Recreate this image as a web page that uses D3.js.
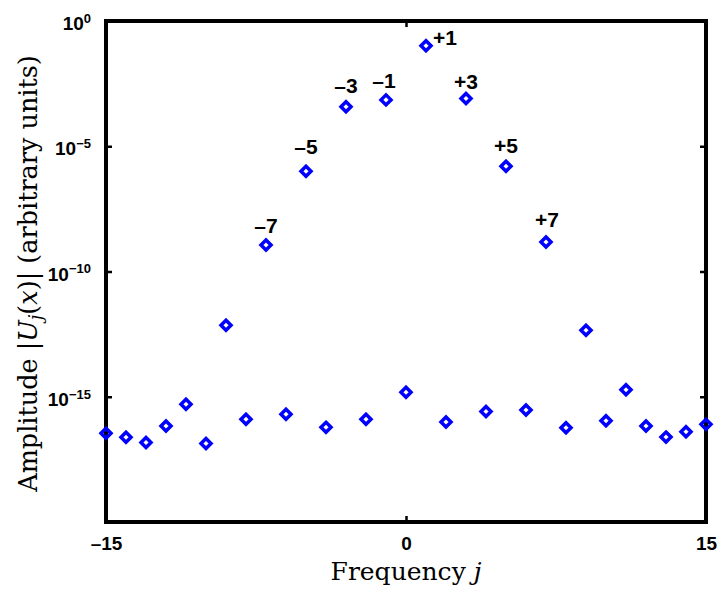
<!DOCTYPE html>
<html>
<head>
<meta charset="utf-8">
<script src="https://cdn.jsdelivr.net/npm/d3@7"></script>
<style>
  html, body { margin: 0; padding: 0; background: #fff; }
  svg { display: block; }
</style>
</head>
<body>
<svg id="chart" width="719" height="590"></svg>
<script>
// ---- data ----
const frequencies = [-15,-14,-13,-12,-11,-10,-9,-8,-7,-6,-5,-4,-3,-2,-1,0,1,2,3,4,5,6,7,8,9,10,11,12,13,14,15];
const amplitudes = [
  3.5e-17, 2.4e-17, 1.5e-17, 6.8e-17, 5.0e-16, 1.35e-17, 7.2e-13, 1.26e-16,
  1.15e-9, 2.0e-16, 1.0e-6, 6.0e-17, 3.8e-4, 1.26e-16, 7.1e-4, 1.5e-15,
  0.102, 9.8e-17, 8.1e-4, 2.6e-16, 1.6e-6, 2.95e-16, 1.5e-9, 5.8e-17,
  4.5e-13, 1.1e-16, 1.9e-15, 6.8e-17, 2.45e-17, 4.0e-17, 7.9e-17
];
const labelFreqs = [-7, -5, -3, -1, 1, 3, 5, 7];
const labelTexts = ["\u20137", "\u20135", "\u20133", "\u20131", "+1", "+3", "+5", "+7"];
const xTicks = [-15, 0, 15];
const xTickLabels = ["\u201315", "0", "15"];
const yTicks = [1e0, 1e-5, 1e-10, 1e-15];
const yTickExps = ["0", "\u22125", "\u221210", "\u221215"];

// ---- layout (styles, not data) ----
const labelDx = [0, 0, 0, -2, 7, 0, 0, 1];
const labelDy = [-12, -17, -14, -12, -1, -9, -13, -15];

const svg = d3.select("#chart");
const L = 106, R = 706, T = 21, B = 522;
const x = d3.scaleLinear().domain([-15, 15]).range([L, R]);
const y = d3.scaleLog().domain([1e-20, 1]).range([B, T]);

const boldFont = "'Liberation Sans', Arial, Helvetica, sans-serif";
const serifFont = "'DejaVu Serif', 'Liberation Serif', serif";

// box
const axW = 4;
svg.append("rect").attr("x", L).attr("y", T).attr("width", R - L).attr("height", B - T)
  .attr("fill", "none").attr("stroke", "#000").attr("stroke-width", axW);

// left axis
const yAxis = d3.axisLeft(y).tickValues(yTicks).tickSizeInner(-6).tickSizeOuter(0).tickPadding(14).tickFormat(() => "");
const gy = svg.append("g").attr("transform", `translate(${L},0)`).call(yAxis);
gy.select(".domain").remove();
gy.selectAll(".tick line").attr("stroke", "#000").attr("stroke-width", 2.5);
gy.selectAll(".tick text").each(function(d, i) {
  const t = d3.select(this);
  t.attr("font-family", boldFont).attr("font-weight", "bold").attr("font-size", 19).attr("fill", "#000")
   .attr("dy", "0.45em").attr("x", -15);
  t.append("tspan").text("10");
  t.append("tspan").attr("dy", "-0.55em").attr("font-size", 13).text(yTickExps[i]);
});
// right ticks
const yAxisR = d3.axisRight(y).tickValues(yTicks).tickSizeInner(-6).tickSizeOuter(0).tickFormat(() => "");
const gyr = svg.append("g").attr("transform", `translate(${R},0)`).call(yAxisR);
gyr.select(".domain").remove();
gyr.selectAll(".tick line").attr("stroke", "#000").attr("stroke-width", 2.5);

// bottom axis
const xAxis = d3.axisBottom(x).tickValues(xTicks).tickSizeInner(-6).tickSizeOuter(0).tickPadding(14)
  .tickFormat((d, i) => xTickLabels[i]);
const gx = svg.append("g").attr("transform", `translate(0,${B})`).call(xAxis);
gx.select(".domain").remove();
gx.selectAll(".tick line").attr("stroke", "#000").attr("stroke-width", 2.5);
gx.selectAll(".tick text").attr("font-family", boldFont).attr("font-weight", "bold")
  .attr("font-size", 19).attr("fill", "#000").attr("dy", "0.72em");
// top ticks
const xAxisT = d3.axisTop(x).tickValues(xTicks).tickSizeInner(-6).tickSizeOuter(0).tickFormat(() => "");
const gxt = svg.append("g").attr("transform", `translate(0,${T})`).call(xAxisT);
gxt.select(".domain").remove();
gxt.selectAll(".tick line").attr("stroke", "#000").attr("stroke-width", 2.5);

// axis titles
svg.append("text").attr("x", (L + R) / 2).attr("y", 580).attr("text-anchor", "middle")
  .attr("font-family", serifFont).attr("font-size", 25).attr("fill", "#000")
  .html("Frequency <tspan font-style='italic'>j</tspan>");
const yl = svg.append("text").attr("transform", `translate(37,${(T + B) / 2 + 2}) rotate(-90)`)
  .attr("text-anchor", "middle").attr("font-family", serifFont).attr("font-size", 25.5).attr("fill", "#000");
yl.append("tspan").text("Amplitude |");
yl.append("tspan").attr("font-style", "italic").text("U");
yl.append("tspan").attr("font-style", "italic").attr("font-size", 18).attr("dy", 5).text("j");
yl.append("tspan").attr("dy", -5).text("(");
yl.append("tspan").attr("font-style", "italic").text("x");
yl.append("tspan").text(")| (arbitrary units)");

// markers
const pts = frequencies.map((f, i) => ({ f, a: amplitudes[i] }));
const s = 5;
svg.append("g").selectAll("path").data(pts).join("path")
  .attr("d", d => `M${x(d.f)},${y(d.a) - s}L${x(d.f) + s},${y(d.a)}L${x(d.f)},${y(d.a) + s}L${x(d.f) - s},${y(d.a)}Z`)
  .attr("fill", "none").attr("stroke", "#0000ff").attr("stroke-width", 3.5);

// labels
const lbls = labelFreqs.map((f, i) => ({ f, t: labelTexts[i], a: amplitudes[frequencies.indexOf(f)], dx: labelDx[i], dy: labelDy[i] }));
svg.append("g").selectAll("text").data(lbls).join("text")
  .attr("x", d => x(d.f) + d.dx)
  .attr("y", d => y(d.a) + d.dy)
  .attr("text-anchor", d => d.f === 1 ? "start" : "middle")
  .attr("font-family", boldFont).attr("font-weight", "bold").attr("font-size", 21).attr("fill", "#000")
  .text(d => d.t);
</script>
</body>
</html>
